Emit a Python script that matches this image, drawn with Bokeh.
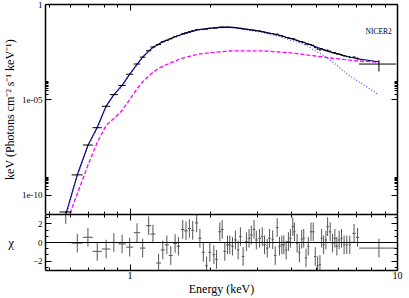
import numpy as np
from bokeh.plotting import figure
from bokeh.models import (Range1d, FixedTicker, LogAxis, LinearAxis, Label, Span,
                          ColumnDataSource, CustomJSTickFormatter)
from bokeh.layouts import column
from bokeh.embed import file_html
from bokeh.resources import INLINE

SERIF = "Liberation Serif"

# ---------------- data ----------------
energy = [0.575, 0.635, 0.696, 0.754, 0.814, 0.870, 0.934, 0.997, 1.062,
          1.115, 1.174, 1.218, 1.279, 1.326, 1.373, 1.420, 1.474, 1.517, 1.574, 1.619,
          1.667, 1.715, 1.775, 1.825, 1.879, 1.933, 1.988, 2.058, 2.105, 2.166,
          2.211, 2.261, 2.314, 2.360, 2.415, 2.477, 2.536, 2.586, 2.647, 2.723,
          2.786, 2.841, 2.908, 2.966, 3.051, 3.122, 3.184, 3.258, 3.323, 3.415,
          3.489, 3.549, 3.620, 3.695, 3.759, 3.834, 3.910, 3.978, 4.061, 4.117,
          4.213, 4.297, 4.385, 4.461, 4.550, 4.640, 4.749, 4.843, 4.926, 5.028,
          5.129, 5.205, 5.294, 5.399, 5.479, 5.601, 5.718, 5.832, 5.932, 6.050,
          6.175, 6.315, 6.462, 6.632, 6.880, 7.085, 8.522]

energy_halfwidth = [0.03, 0.03, 0.03, 0.03, 0.03, 0.03, 0.03, 0.03, 0.03,
                    0.027, 0.027, 0.027, 0.027, 0.024, 0.024, 0.024, 0.024, 0.024, 0.024, 0.024,
                    0.024, 0.024, 0.024, 0.024, 0.024, 0.024, 0.024, 0.024, 0.024, 0.028,
                    0.028, 0.028, 0.028, 0.028, 0.028, 0.028, 0.028, 0.028, 0.028, 0.028,
                    0.035, 0.035, 0.035, 0.035, 0.035, 0.035, 0.035, 0.035, 0.035, 0.035,
                    0.04, 0.04, 0.04, 0.04, 0.04, 0.04, 0.04, 0.04, 0.04, 0.04,
                    0.04, 0.04, 0.04, 0.04, 0.048, 0.048, 0.048, 0.048, 0.048, 0.048,
                    0.048, 0.048, 0.048, 0.048, 0.06, 0.06, 0.06, 0.06, 0.06, 0.06,
                    0.06, 0.06, 0.06, 0.06, 0.1, 0.1, 1.34]

flux = [1.35e-11, 1.19e-9, 4.35e-8, 3.52e-7, 4.67e-6, 1.90e-5, 5.77e-5, 2.22e-4, 7.63e-4,
        1.744e-3, 3.76e-3, 5.93e-3, 7.94e-3, 1.107e-2, 1.342e-2, 1.61e-2, 2.045e-2, 2.35e-2, 2.93e-2, 3.29e-2,
        3.74e-2, 4.18e-2, 4.81e-2, 4.97e-2, 5.07e-2, 5.13e-2, 5.58e-2, 5.81e-2, 5.88e-2, 6.49e-2,
        6.60e-2, 6.38e-2, 6.50e-2, 6.42e-2, 6.32e-2, 6.20e-2, 5.75e-2, 5.75e-2, 5.20e-2, 5.09e-2,
        4.90e-2, 4.71e-2, 4.56e-2, 4.28e-2, 4.06e-2, 3.83e-2, 3.53e-2, 3.26e-2, 3.16e-2, 2.96e-2,
        2.62e-2, 2.81e-2, 2.41e-2, 2.26e-2, 2.10e-2, 1.86e-2, 1.79e-2, 1.68e-2, 1.65e-2, 1.53e-2,
        1.32e-2, 1.14e-2, 1.13e-2, 1.05e-2, 8.47e-3, 8.35e-3, 7.96e-3, 7.24e-3, 5.55e-3, 4.65e-3,
        4.17e-3, 4.87e-3, 4.25e-3, 3.92e-3, 4.01e-3, 3.55e-3, 3.01e-3, 2.96e-3, 2.60e-3, 2.53e-3,
        2.33e-3, 2.06e-3, 1.89e-3, 1.73e-3, 1.75e-3, 1.51e-3, 7.6e-4]

flux_err = [1.2e-12, 1.0e-10, 2.5e-9, 1.8e-8, 1.9e-7, 7e-7, 1.8e-6, 6e-6, 2.2e-5,
            4.4e-5, 9e-5, 1.45e-4, 2.1e-4, 2.8e-4, 3.4e-4, 4.2e-4, 5.1e-4, 5.9e-4, 7.1e-4, 8.0e-4,
            9.0e-4, 1.0e-3, 1.14e-3, 1.23e-3, 1.30e-3, 1.37e-3, 1.43e-3, 1.50e-3, 1.54e-3, 1.58e-3,
            1.60e-3, 1.64e-3, 1.64e-3, 1.62e-3, 1.60e-3, 1.54e-3, 1.47e-3, 1.42e-3, 1.35e-3, 1.27e-3,
            1.21e-3, 1.16e-3, 1.10e-3, 1.06e-3, 1.00e-3, 9.4e-4, 8.9e-4, 8.3e-4, 7.8e-4, 7.4e-4,
            1.1e-3, 1.06e-3, 1.0e-3, 9.5e-4, 9.0e-4, 8.7e-4, 8.0e-4, 7.5e-4, 7.6e-4, 7.3e-4,
            6.6e-4, 6.6e-4, 6.1e-4, 5.6e-4, 5.6e-4, 5.1e-4, 4.8e-4, 4.4e-4, 4.3e-4, 3.9e-4,
            3.8e-4, 3.5e-4, 3.3e-4, 3.1e-4, 2.8e-4, 2.6e-4, 2.6e-4, 2.4e-4, 2.3e-4, 2.2e-4,
            2.0e-4, 2.1e-4, 1.9e-4, 1.8e-4, 1.9e-4, 1.7e-4, 4.5e-4]

model_total = [1.0e-11, 1.2e-9, 4.2e-8, 3.7e-7, 4.8e-6, 1.9e-5, 5.8e-5, 2.25e-4, 7.4e-4,
               1.77e-3, 3.6e-3, 5.8e-3, 8.4e-3, 1.13e-2, 1.35e-2, 1.67e-2, 2.05e-2, 2.37e-2, 2.83e-2, 3.19e-2,
               3.6e-2, 4.05e-2, 4.57e-2, 4.91e-2, 5.21e-2, 5.47e-2, 5.73e-2, 6.01e-2, 6.16e-2, 6.31e-2,
               6.38e-2, 6.54e-2, 6.54e-2, 6.46e-2, 6.38e-2, 6.16e-2, 5.87e-2, 5.66e-2, 5.4e-2, 5.08e-2,
               4.85e-2, 4.62e-2, 4.41e-2, 4.25e-2, 4.01e-2, 3.77e-2, 3.55e-2, 3.31e-2, 3.12e-2, 2.94e-2,
               2.77e-2, 2.64e-2, 2.45e-2, 2.28e-2, 2.12e-2, 1.93e-2, 1.78e-2, 1.65e-2, 1.52e-2, 1.45e-2,
               1.32e-2, 1.21e-2, 1.11e-2, 1.02e-2, 9.4e-3, 8.56e-3, 7.41e-3, 6.74e-3, 6.2e-3, 5.63e-3,
               5.06e-3, 4.71e-3, 4.33e-3, 3.84e-3, 3.53e-3, 3.25e-3, 3.03e-3, 2.85e-3, 2.69e-3, 2.47e-3,
               2.24e-3, 2.11e-3, 1.94e-3, 1.77e-3, 1.57e-3, 1.42e-3, 1.0e-3]

model_hard = [3e-12, 1.2e-10, 3.8e-9, 6e-8, 4.6e-7, 1.07e-6, 2.8e-6, 1.05e-5, 3.8e-5,
              8.9e-5, 1.82e-4, 2.75e-4, 4.6e-4, 5.8e-4, 7.2e-4, 8.9e-4, 1.05e-3, 1.31e-3, 1.57e-3, 1.77e-3,
              1.94e-3, 2.16e-3, 2.38e-3, 2.59e-3, 2.72e-3, 2.85e-3, 2.95e-3, 3.10e-3, 3.21e-3, 3.33e-3,
              3.40e-3, 3.49e-3, 3.57e-3, 3.66e-3, 3.75e-3, 3.75e-3, 3.75e-3, 3.75e-3, 3.75e-3, 3.75e-3,
              3.75e-3, 3.75e-3, 3.75e-3, 3.75e-3, 3.72e-3, 3.70e-3, 3.66e-3, 3.62e-3, 3.54e-3, 3.40e-3,
              3.37e-3, 3.33e-3, 3.25e-3, 3.21e-3, 3.13e-3, 3.06e-3, 2.99e-3, 2.92e-3, 2.81e-3, 2.75e-3,
              2.68e-3, 2.59e-3, 2.50e-3, 2.41e-3, 2.32e-3, 2.24e-3, 2.16e-3, 2.09e-3, 2.01e-3, 1.94e-3,
              1.87e-3, 1.83e-3, 1.77e-3, 1.70e-3, 1.64e-3, 1.58e-3, 1.53e-3, 1.49e-3, 1.46e-3, 1.42e-3,
              1.37e-3, 1.32e-3, 1.28e-3, 1.23e-3, 1.16e-3, 1.12e-3, 9.4e-4]

model_soft = [7e-12, 1.08e-9, 3.8e-8, 3.1e-7, 4.3e-6, 1.8e-5, 5.5e-5, 2.1e-4, 7.0e-4,
              1.68e-3, 3.42e-3, 5.5e-3, 7.9e-3, 1.07e-2, 1.28e-2, 1.58e-2, 1.94e-2, 2.24e-2, 2.67e-2, 3.01e-2,
              3.41e-2, 3.83e-2, 4.33e-2, 4.65e-2, 4.94e-2, 5.19e-2, 5.44e-2, 5.70e-2, 5.84e-2, 5.98e-2,
              6.04e-2, 6.19e-2, 6.18e-2, 6.09e-2, 6.00e-2, 5.78e-2, 5.50e-2, 5.29e-2, 5.03e-2, 4.70e-2,
              4.48e-2, 4.25e-2, 4.04e-2, 3.88e-2, 3.64e-2, 3.40e-2, 3.18e-2, 2.95e-2, 2.77e-2, 2.60e-2,
              2.43e-2, 2.31e-2, 2.13e-2, 1.96e-2, 1.81e-2, 1.62e-2, 1.48e-2, 1.36e-2, 1.24e-2, 1.17e-2,
              1.07e-2, 9.8e-3, 9.0e-3, 8.2e-3, 7.3e-3, 6.3e-3, 5.2e-3, 4.38e-3, 3.80e-3, 3.21e-3,
              2.72e-3, 2.41e-3, 2.09e-3, 1.75e-3, 1.51e-3, 1.20e-3, 9.7e-4, 7.8e-4, 6.5e-4, 5.2e-4,
              4.06e-4, 3.04e-4, 2.37e-4, 1.86e-4, 1.30e-4, 1.0e-4, 1.87e-5]

residual = [3.0, -0.07, 0.56, -0.95, -0.7, 0.0, -0.15, -0.5, 1.05,
            -0.6, 1.8, 0.9, -2.2, -0.8, -0.25, -1.4, -0.1, -0.4, 1.4, 1.25,
            1.5, 1.3, 2.1, 0.45, -1.05, -2.5, -1.05, -1.3, -1.8, 1.15,
            1.4, -0.95, -0.25, -0.25, -0.4, 0.27, -0.8, 0.63, -1.5, 0.1,
            0.45, 0.8, 1.4, 0.27, 0.45, 0.63, -0.25, -0.6, 0.45, 0.3,
            -1.4, 1.6, -0.4, -0.25, -0.25, -0.8, 0.1, 0.45, 1.7, 1.15,
            -0.07, -1.1, 0.35, 0.45, -1.65, -0.4, 1.15, 1.15, -1.5, -2.5,
            -2.35, 0.45, -0.25, 0.27, 1.7, 1.15, -0.07, 0.45, -0.4, 0.27,
            0.45, -0.25, -0.25, -0.25, 0.98, 0.55, -0.6]
residual_err = 1.0

x_major = [1, 10]
x_minor = [0.5, 0.6, 0.7, 0.8, 0.9, 2, 3, 4, 5, 6, 7, 8, 9]
y_major = [1e-10, 1e-5, 1.0]
y_minor = [2e-10, 3e-10, 4e-10, 5e-10, 6e-10, 7e-10, 8e-10, 9e-10,
           2e-5, 3e-5, 4e-5, 5e-5, 6e-5, 7e-5, 8e-5, 9e-5]
r_major = [-2, 0, 2]
r_minor = [-8 / 3, -4 / 3, -2 / 3, 2 / 3, 4 / 3, 8 / 3]

# ---------------- sources ----------------
E = np.array(energy)
dE = np.array(energy_halfwidth)
F = np.array(flux)
dF = np.array(flux_err)
R = np.array(residual)
src = ColumnDataSource(dict(
    e=E, e_lo=E - dE, e_hi=E + dE,
    f=F, f_lo=F - dF, f_hi=F + dF,
    m=np.array(model_total), g=np.array(model_hard), b=np.array(model_soft),
    r=R, r_lo=R - residual_err, r_hi=R + residual_err,
))

XR = Range1d(0.483, 10)
BLANK = CustomJSTickFormatter(code="return '';")


def style_axis(ax, show_labels, size="9px"):
    ax.axis_line_color = "black"
    ax.axis_line_width = 1.5
    ax.major_tick_in = 6
    ax.major_tick_out = 0
    ax.minor_tick_in = 3
    ax.minor_tick_out = 0
    ax.major_tick_line_color = "black"
    ax.minor_tick_line_color = "black"
    ax.major_label_text_font = SERIF
    ax.major_label_text_color = "black"
    ax.axis_label_text_font = SERIF
    ax.axis_label_text_font_style = "normal"
    ax.axis_label_text_color = "black"
    if show_labels:
        ax.major_label_text_font_size = size
        ax.major_label_standoff = 3
    else:
        ax.formatter = BLANK
        ax.major_label_text_font_size = "1px"
        ax.major_label_standoff = 0


# ---------------- top panel ----------------
p1 = figure(width=409, height=214, x_axis_type="log", y_axis_type="log",
            x_range=XR, y_range=Range1d(1e-11, 1.0),
            output_backend="svg", toolbar_location=None,
            min_border_left=43, min_border_right=12, min_border_top=4, min_border_bottom=0)
p1.outline_line_color = None
p1.xgrid.visible = False
p1.ygrid.visible = False
p1.background_fill_color = "white"
p1.border_fill_color = "white"

xt = FixedTicker(ticks=x_major, minor_ticks=x_minor)
yt = FixedTicker(ticks=y_major, minor_ticks=y_minor)

p1.xaxis.ticker = xt
style_axis(p1.xaxis[0], False)
p1.yaxis.ticker = yt
style_axis(p1.yaxis[0], True, "9px")
p1.yaxis.formatter = CustomJSTickFormatter(
    code="if (tick > 0.5) { return '1'; } if (tick > 1e-7) { return '1e-05'; } return '1e-10';")
p1.yaxis.axis_label = "keV (Photons cm\u207b\u00b2 s\u207b\u00b9 keV\u207b\u00b9)"
p1.yaxis.axis_label_text_font_size = "12px"
p1.yaxis.axis_label_standoff = 2

top_ax = LogAxis(ticker=xt)
style_axis(top_ax, False)
p1.add_layout(top_ax, "above")
right_ax = LogAxis(ticker=yt)
style_axis(right_ax, False)
p1.add_layout(right_ax, "right")

p1.line("e", "b", source=src, line_color="#4a4aff", line_width=1.2, line_dash="1 2")
p1.line("e", "g", source=src, line_color="#ff00ff", line_width=1.3, line_dash="4 2")
p1.line("e", "m", source=src, line_color="#10107a", line_width=1.2)
p1.segment(x0="e_lo", y0="f", x1="e_hi", y1="f", source=src, line_color="black", line_width=1)
p1.segment(x0="e", y0="f_lo", x1="e", y1="f_hi", source=src, line_color="black", line_width=1)

p1.add_layout(Label(x=7.6, y=0.037, text="NICER2", text_font=SERIF, text_font_size="7.5px",
                    text_baseline="middle", text_align="left", text_color="black"))

# ---------------- residual panel ----------------
p2 = figure(width=409, height=84, x_axis_type="log",
            x_range=XR, y_range=Range1d(-3, 3),
            output_backend="svg", toolbar_location=None,
            min_border_left=43, min_border_right=12, min_border_top=0, min_border_bottom=0)
p2.outline_line_color = None
p2.xgrid.visible = False
p2.ygrid.visible = False
p2.background_fill_color = "white"
p2.border_fill_color = "white"

rt = FixedTicker(ticks=r_major, minor_ticks=r_minor)
p2.xaxis.ticker = xt
style_axis(p2.xaxis[0], True, "10px")
p2.xaxis.formatter = CustomJSTickFormatter(code="return tick > 5 ? '10' : '1';")
p2.xaxis.major_label_standoff = 1
p2.xaxis.axis_label = "Energy (keV)"
p2.xaxis.axis_label_text_font_size = "12px"
p2.xaxis.axis_label_standoff = 0
p2.yaxis.ticker = rt
style_axis(p2.yaxis[0], True, "9px")
p2.yaxis.axis_label = "\u03c7"
p2.yaxis.axis_label_text_font_size = "13px"
p2.yaxis.axis_label_orientation = "horizontal"
p2.yaxis.axis_label_standoff = 16

top_ax2 = LogAxis(ticker=xt)
style_axis(top_ax2, False)
p2.add_layout(top_ax2, "above")
right_ax2 = LinearAxis(ticker=rt)
style_axis(right_ax2, False)
p2.add_layout(right_ax2, "right")

p2.add_layout(Span(location=0, dimension="width", line_color="black", line_width=1))
p2.segment(x0="e_lo", y0="r", x1="e_hi", y1="r", source=src, line_color="#555555", line_width=1)
p2.segment(x0="e", y0="r_lo", x1="e", y1="r_hi", source=src, line_color="#555555", line_width=1)

layout = column(p1, p2, spacing=0)
open("out.html", "w").write(file_html(layout, INLINE))
